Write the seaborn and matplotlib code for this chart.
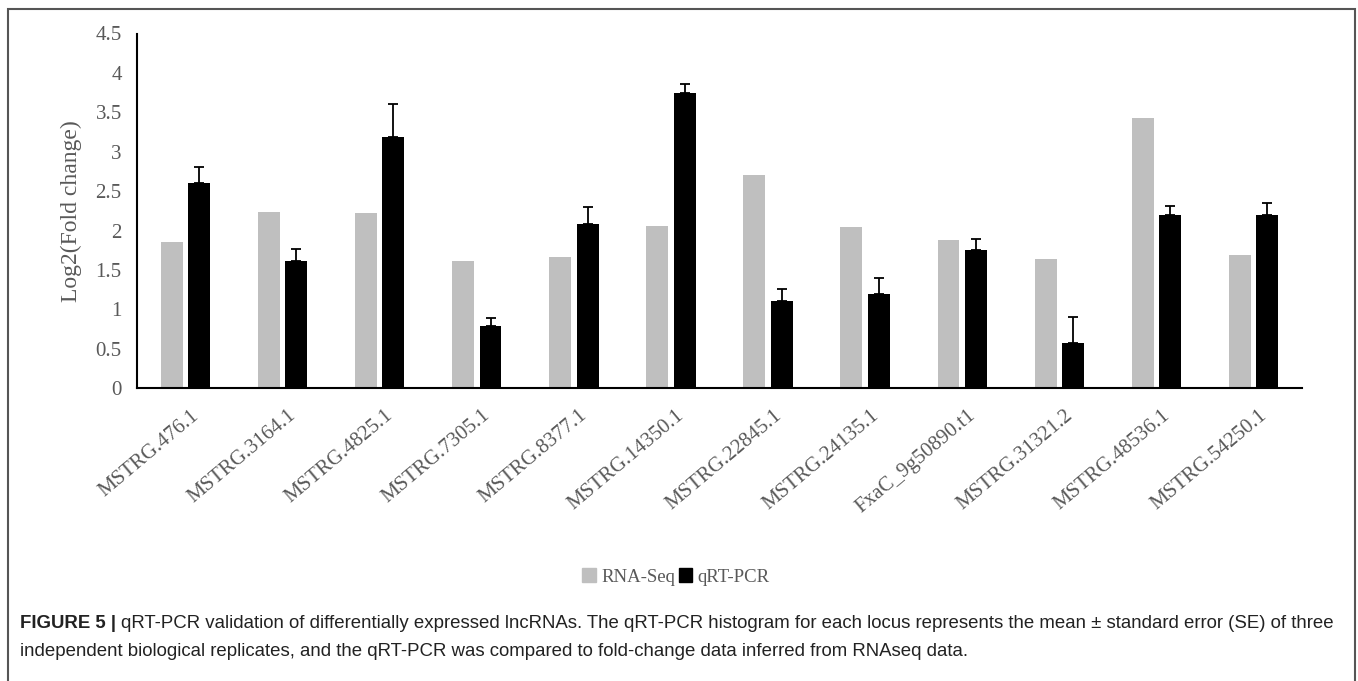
import numpy as np
import pandas as pd
import seaborn as sns
import matplotlib
matplotlib.use("Agg")
import matplotlib.pyplot as plt
from matplotlib.patches import Rectangle
from matplotlib.transforms import ScaledTranslation

# Loci and log2 fold-change values
genes = ["MSTRG.476.1", "MSTRG.3164.1", "MSTRG.4825.1", "MSTRG.7305.1",
         "MSTRG.8377.1", "MSTRG.14350.1", "MSTRG.22845.1", "MSTRG.24135.1",
         "FxaC_9g50890.t1", "MSTRG.31321.2", "MSTRG.48536.1", "MSTRG.54250.1"]
rnaseq = [1.85, 2.24, 2.22, 1.61, 1.67, 2.06, 2.70, 2.05, 1.88, 1.645, 3.43, 1.69]
qrtpcr = [2.61, 1.62, 3.19, 0.79, 2.09, 3.74, 1.11, 1.19, 1.75, 0.57, 2.20, 2.20]
qrtpcr_se = [0.20, 0.145, 0.41, 0.105, 0.21, 0.115, 0.145, 0.215, 0.145, 0.33, 0.115, 0.155]
series = ["RNA-Seq", "qRT-PCR"]
yticks = [0, 0.5, 1, 1.5, 2, 2.5, 3, 3.5, 4, 4.5]
ytick_labels = ["0", "0.5", "1", "1.5", "2", "2.5", "3", "3.5", "4", "4.5"]

df = pd.DataFrame({
    "gene": genes * 2,
    "series": [series[0]] * len(genes) + [series[1]] * len(genes),
    "value": rnaseq + qrtpcr,
})

sns.set_theme(style="white")
plt.rcParams["font.family"] = ["Liberation Serif", "DejaVu Serif"]

W, H, DPI = 1358, 681, 100
fig = plt.figure(figsize=(W / DPI, H / DPI), dpi=DPI)
ax = fig.add_axes([137 / W, 1 - 388.3 / H, (1302 - 137) / W, (388.3 - 33.5) / H])

sns.barplot(data=df, x="gene", y="value", hue="series", order=genes,
            hue_order=series, palette={"RNA-Seq": "#BFBFBF", "qRT-PCR": "#000000"},
            width=0.565, gap=0.2, errorbar=None, ax=ax, saturation=1,
            linewidth=0)

# One-sided (upper) standard-error bars on the qRT-PCR bars
pcr_bars = ax.containers[1]
xs = [b.get_x() + b.get_width() / 2 for b in pcr_bars]
ys = [b.get_height() for b in pcr_bars]
ax.errorbar(xs, ys, yerr=[np.zeros(len(ys)), qrtpcr_se], fmt="none",
            ecolor="black", elinewidth=1.3, capsize=3.6, capthick=1.3, zorder=3)

ax.set_ylim(0, 4.5)
ax.set_xlim(-0.5, len(genes) - 0.5)
ax.set_yticks(yticks)
ax.set_yticklabels(ytick_labels)
ax.set_xlabel("")
ax.set_ylabel("Log2(Fold change)", fontsize=17, color="#595959", labelpad=10)

for side in ["top", "right"]:
    ax.spines[side].set_visible(False)
for side in ["left", "bottom"]:
    ax.spines[side].set_color("black")
    ax.spines[side].set_linewidth(1.5)

ax.tick_params(axis="y", length=0, pad=11, labelsize=15, labelcolor="#595959")
ax.tick_params(axis="x", length=0, pad=18, labelsize=15, labelcolor="#595959")
for lab in ax.get_xticklabels():
    lab.set_rotation(40)
    lab.set_ha("right")
    lab.set_va("center")
    lab.set_rotation_mode("anchor")
    lab.set_transform(lab.get_transform() + ScaledTranslation(11 / DPI, 0, fig.dpi_scale_trans))

ax.legend_.remove()
handles = [Rectangle((0, 0), 1, 1, color="#BFBFBF"), Rectangle((0, 0), 1, 1, color="#000000")]
leg = fig.legend(handles, series, loc="center", bbox_to_anchor=(676 / W, 1 - 577 / H),
                 ncol=2, frameon=False, fontsize=13.5, handlelength=0.7, handleheight=0.7,
                 handletextpad=0.3, columnspacing=0.2)
for t in leg.get_texts():
    t.set_color("#595959")

# Caption
cap_font = ["Liberation Sans", "DejaVu Sans"]
cap_size = 13.4
y1 = 1 - 624 / H
y2 = 1 - 652 / H
t_bold = fig.text(20 / W, y1, "FIGURE 5 | ", fontsize=cap_size, fontweight="bold",
                  family=cap_font, color="#222222", va="center", ha="left")
fig.canvas.draw()
bb = t_bold.get_window_extent()
fig.text(bb.x1 / W, y1,
         "qRT-PCR validation of differentially expressed lncRNAs. The qRT-PCR histogram for each locus "
         "represents the mean \u00b1 standard error (SE) of three",
         fontsize=cap_size, family=cap_font, color="#222222", va="center", ha="left")
fig.text(20 / W, y2,
         "independent biological replicates, and the qRT-PCR was compared to fold-change data "
         "inferred from RNAseq data.",
         fontsize=cap_size, family=cap_font, color="#222222", va="center", ha="left")

# Outer frame
fig.patches.append(Rectangle((8 / W, -0.01), (1355 - 8) / W, 1 - 9 / H + 0.01,
                             transform=fig.transFigure, fill=False,
                             edgecolor="#555555", linewidth=1.5))

fig.savefig("out.png", dpi=DPI)
